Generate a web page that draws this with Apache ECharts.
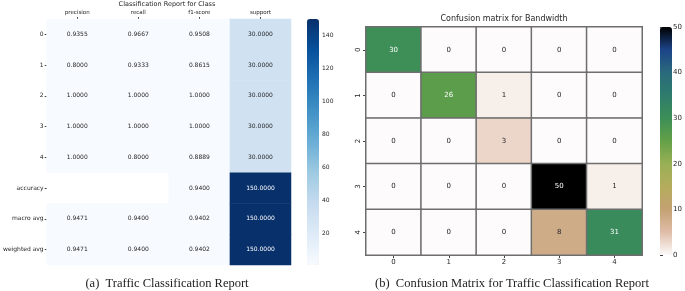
<!DOCTYPE html>
<html>
<head>
<meta charset="utf-8">
<script src="https://cdn.jsdelivr.net/npm/echarts@6/dist/echarts.min.js"></script>
<style>
html, body { margin: 0; padding: 0; background: #fff; }
#main { width: 685px; height: 291px; }
</style>
</head>
<body>
<div id="main"></div>
<script>
// classification report (left)
var reportCols = ['precision', 'recall', 'f1-score', 'support'];
var reportRows = ['0', '1', '2', '3', '4', 'accuracy', 'macro avg', 'weighted avg'];
var precision = [0.9355, 0.8000, 1.0000, 1.0000, 1.0000, null, 0.9471, 0.9471];
var recall    = [0.9667, 0.9333, 1.0000, 1.0000, 0.8000, null, 0.9400, 0.9400];
var f1score   = [0.9508, 0.8615, 1.0000, 1.0000, 0.8889, 0.9400, 0.9402, 0.9402];
var support   = [30, 30, 30, 30, 30, 150, 150, 150];
var reportTicks = [20, 40, 60, 80, 100, 120, 140];

// confusion matrix (right)
var cmLabels = ['0', '1', '2', '3', '4'];
var cmRows = [
    [30, 0, 0, 0, 0],
    [0, 26, 1, 0, 0],
    [0, 0, 3, 0, 0],
    [0, 0, 0, 50, 1],
    [0, 0, 0, 8, 31]
];
var cmTicks = [0, 10, 20, 30, 40, 50];

var blues = ['#f7fbff', '#deebf7', '#c6dbef', '#9ecae1', '#6baed6', '#4292c6', '#2171b5', '#08519c', '#08306b'];
var earthR = ['#fdfbfb', '#dfbda8', '#c4a172', '#b4ac5d', '#99b055', '#63a048',
              '#3d8f57', '#2e7c6c', '#2a6a7c', '#1c4488', '#000000'];

var myChart = echarts.init(document.getElementById('main'));

var reportColumns = [precision, recall, f1score, support];
var reportData = [];
reportColumns.forEach(function (col, c) {
    col.forEach(function (v, r) {
        if (v === null) {
            reportData.push([c, r, '-']);   // NaN cell, left blank
        } else {
            reportData.push({
                value: [c, r, v],
                label: { color: v > 80 ? '#ffffff' : '#262626' }
            });
        }
    });
});

var cmData = [];
cmRows.forEach(function (row, r) {
    row.forEach(function (v, c) {
        cmData.push({
            value: [c, r, v],
            label: { color: v > 20 ? '#ffffff' : '#262626' }
        });
    });
});

var txt = '#262626';

option = {
    animation: false,
    backgroundColor: '#ffffff',
    textStyle: { fontFamily: 'DejaVu Sans' },
    title: [
        {
            text: 'Classification Report for Class',
            left: 167, top: 1, padding: 0, textAlign: 'center',
            textStyle: { fontSize: 6.5, fontWeight: 'normal', color: txt, fontFamily: 'DejaVu Sans' }
        },
        {
            text: 'Confusion matrix for Bandwidth',
            left: 504, top: 14.5, padding: 0, textAlign: 'center',
            textStyle: { fontSize: 8, fontWeight: 'normal', color: txt, fontFamily: 'DejaVu Sans' }
        },
        {
            text: '(a)  Traffic Classification Report',
            left: 167, top: 277, padding: 0, textAlign: 'center',
            textStyle: { fontSize: 12.5, fontWeight: 'normal', color: '#222', fontFamily: 'Liberation Serif' }
        },
        {
            text: '(b)  Confusion Matrix for Traffic Classification Report',
            left: 512, top: 277, padding: 0, textAlign: 'center',
            textStyle: { fontSize: 12.5, fontWeight: 'normal', color: '#222', fontFamily: 'Liberation Serif' }
        }
    ],
    grid: [
        { left: 43, top: 19, width: 248, height: 246 },
        { left: 366, top: 27, width: 276, height: 228 },
        { left: 307, top: 19, width: 12, height: 246 },
        { left: 660, top: 27, width: 12, height: 228 }
    ],
    xAxis: [
        {
            type: 'category', gridIndex: 0, data: reportCols, position: 'top',
            axisLine: { show: false },
            axisTick: { show: true, length: 2, alignWithLabel: true, lineStyle: { color: '#444' } },
            axisLabel: { fontSize: 5.5, color: txt, margin: 3, interval: 0 },
            splitLine: { show: false }
        },
        {
            type: 'category', gridIndex: 1, data: cmLabels, position: 'bottom',
            axisLine: { show: false },
            axisTick: { show: true, length: 3, alignWithLabel: true, lineStyle: { color: '#444' } },
            axisLabel: { fontSize: 7, color: txt, margin: 4 },
            splitLine: { show: false }
        },
        { type: 'value', gridIndex: 2, show: false },
        { type: 'value', gridIndex: 3, show: false }
    ],
    yAxis: [
        {
            type: 'category', gridIndex: 0, data: reportRows, inverse: true,
            axisLine: { show: false },
            axisTick: { show: true, length: 2, alignWithLabel: true, lineStyle: { color: '#444' } },
            axisLabel: { fontSize: 6, color: txt, margin: 3, interval: 0 },
            splitLine: { show: false }
        },
        {
            type: 'category', gridIndex: 1, data: cmLabels, inverse: true,
            axisLine: { show: false },
            axisTick: { show: true, length: 3, alignWithLabel: true, lineStyle: { color: '#444' } },
            axisLabel: { fontSize: 7, color: txt, margin: 4, rotate: 90 },
            splitLine: { show: false }
        },
        {
            type: 'value', gridIndex: 2, min: 0.8, max: 150, position: 'right',
            axisLine: { show: false },
            axisTick: { show: true, length: 2, customValues: reportTicks, lineStyle: { color: '#444' } },
            axisLabel: { fontSize: 6, color: txt, margin: 3, customValues: reportTicks },
            splitLine: { show: false }
        },
        {
            type: 'value', gridIndex: 3, min: 0, max: 50, position: 'right',
            axisLine: { show: false },
            axisTick: { show: true, length: 3, customValues: cmTicks, lineStyle: { color: '#444' } },
            axisLabel: { fontSize: 7, color: txt, margin: 3, customValues: cmTicks },
            splitLine: { show: false }
        }
    ],
    visualMap: [
        {
            type: 'continuous', seriesIndex: 0, min: 0.8, max: 150,
            orient: 'vertical', left: 307, top: 19, itemWidth: 12, itemHeight: 246,
            padding: 0, calculable: false, hoverLink: false, text: null,
            inRange: { color: blues }
        },
        {
            type: 'continuous', seriesIndex: 1, min: 0, max: 50,
            orient: 'vertical', left: 660, top: 27, itemWidth: 12, itemHeight: 228,
            padding: 0, calculable: false, hoverLink: false, text: null,
            inRange: { color: earthR }
        }
    ],
    series: [
        {
            type: 'heatmap', xAxisIndex: 0, yAxisIndex: 0,
            data: reportData,
            label: {
                show: true, fontSize: 6,
                formatter: function (p) { return p.value[2].toFixed(4); }
            },
            itemStyle: { borderWidth: 0 }
        },
        {
            type: 'heatmap', xAxisIndex: 1, yAxisIndex: 1,
            data: cmData,
            label: { show: true, fontSize: 7 },
            itemStyle: { borderColor: '#6e6e6e', borderWidth: 1.5 }
        }
    ]
};

myChart.setOption(option);
</script>
</body>
</html>
